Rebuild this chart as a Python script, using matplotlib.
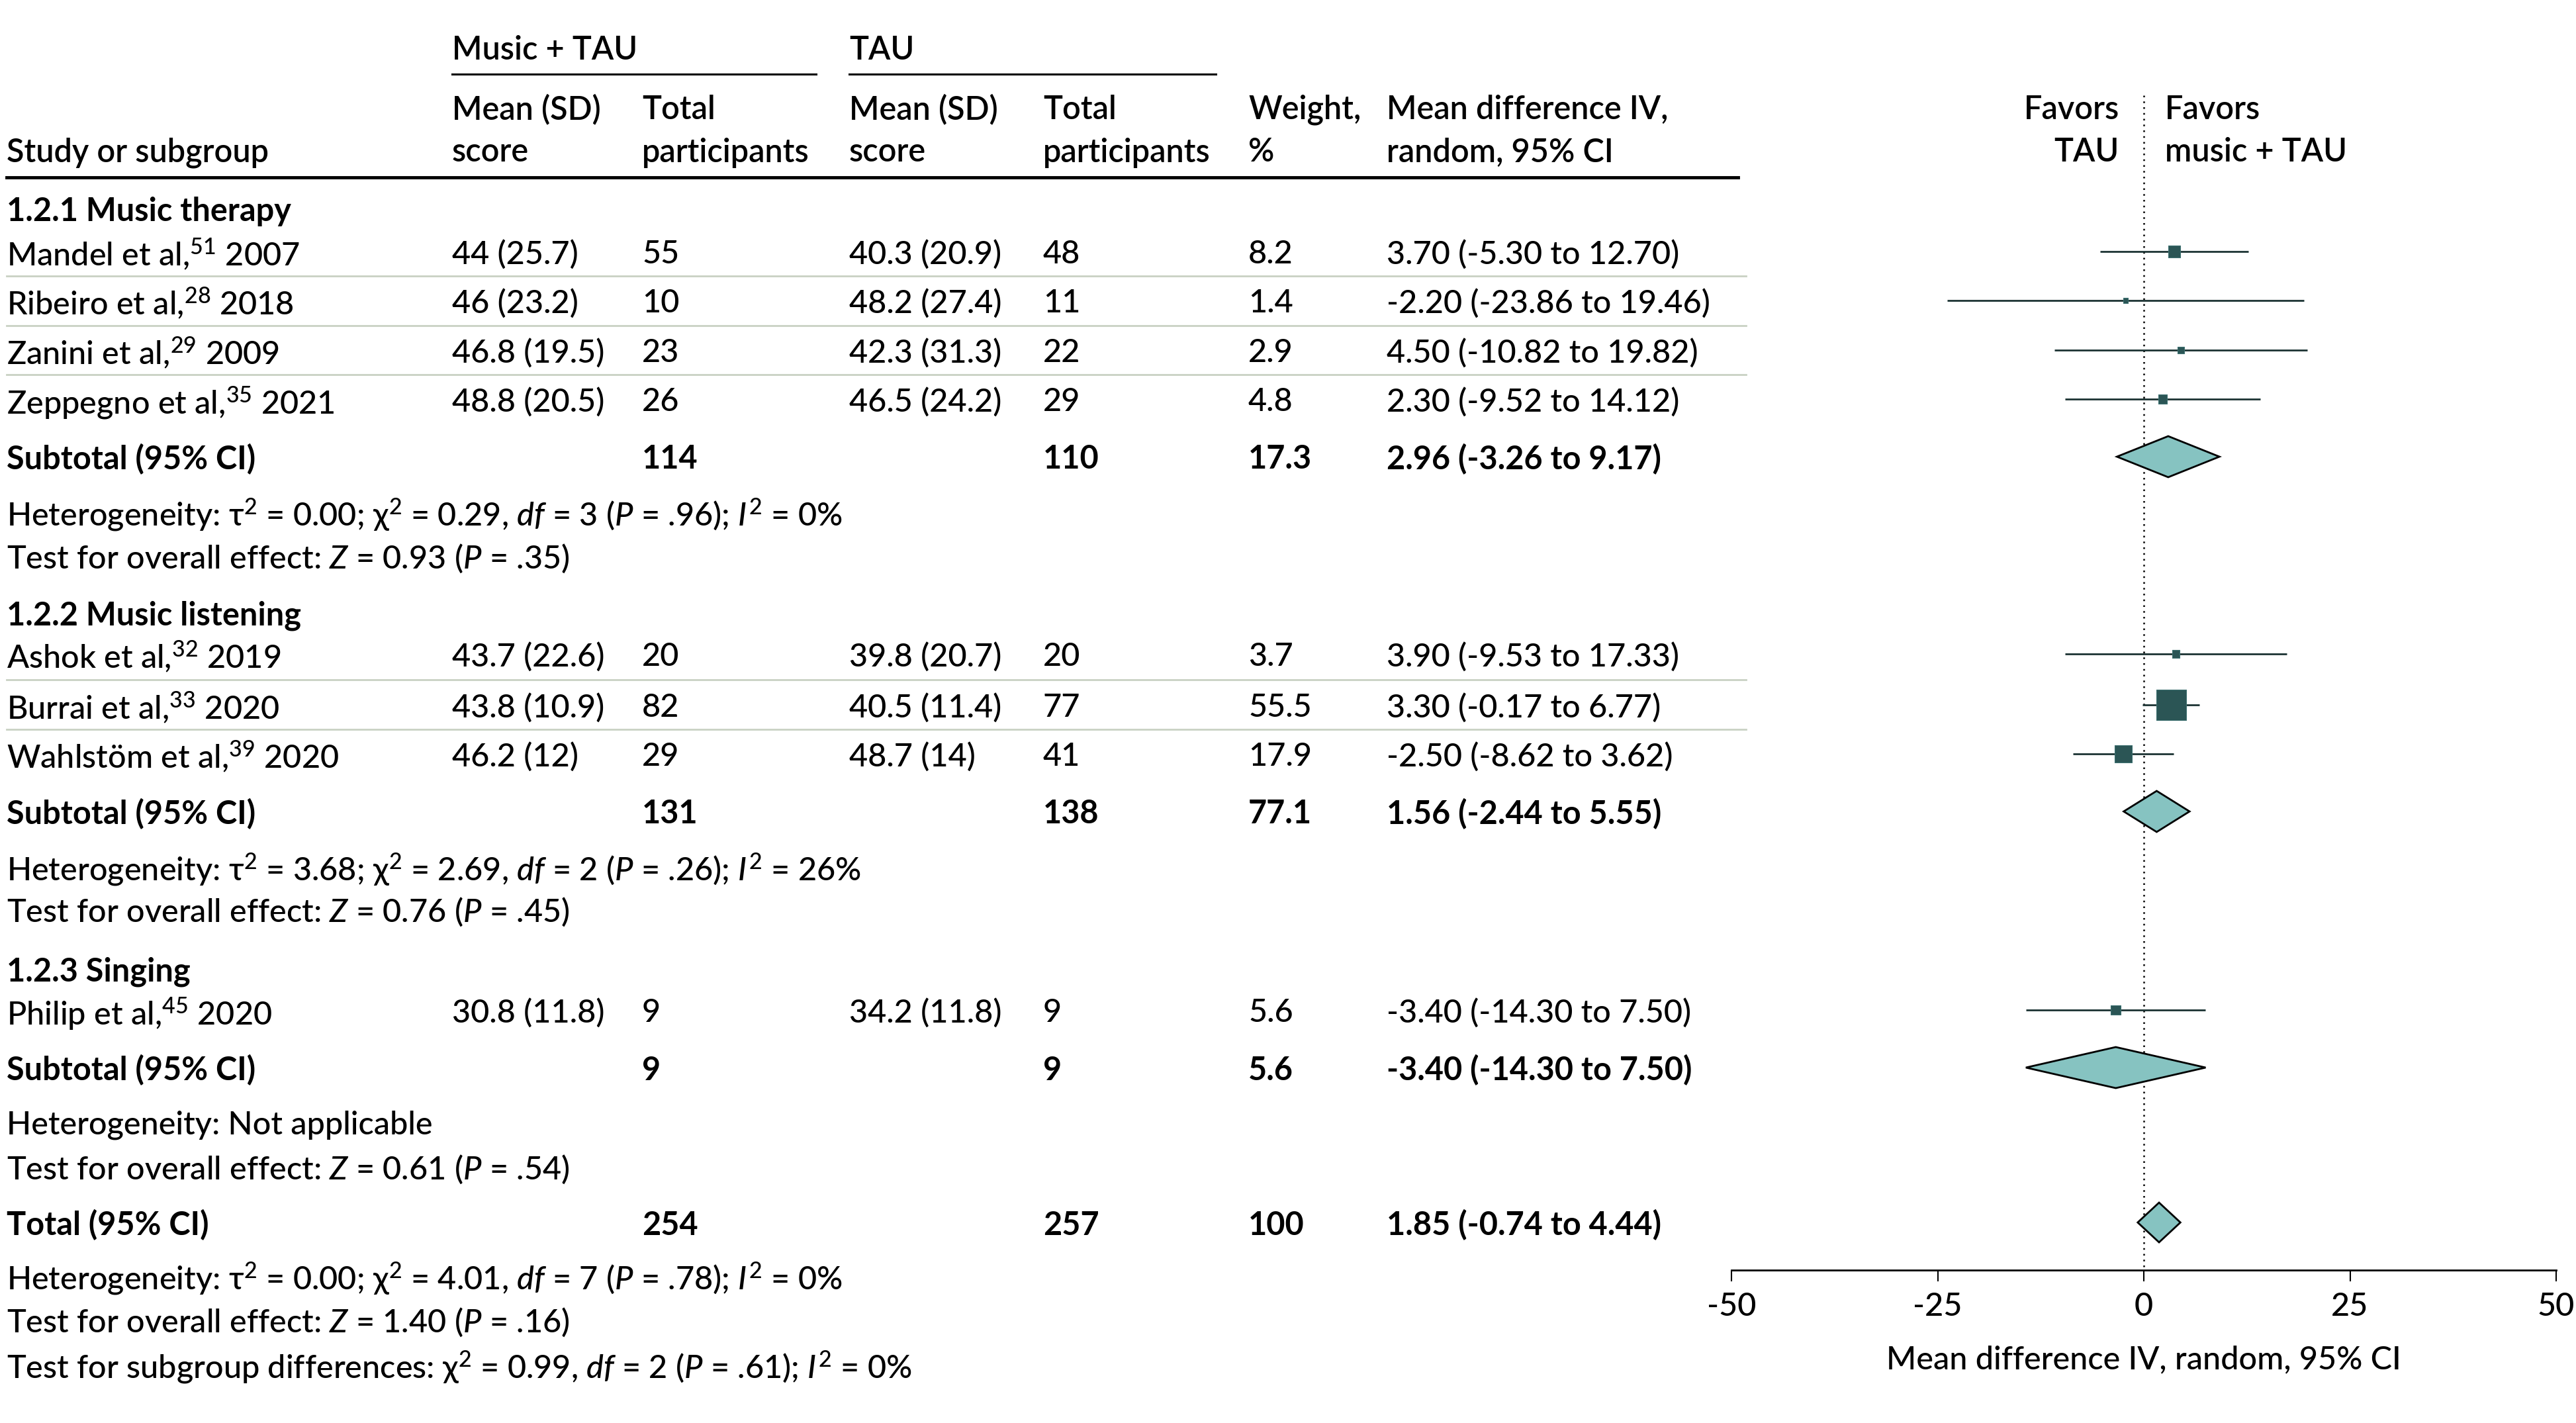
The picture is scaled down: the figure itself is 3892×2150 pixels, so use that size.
import numpy as np
import matplotlib
matplotlib.use("Agg")
import matplotlib.pyplot as plt

plt.rcParams["font.family"] = ["Lato", "DejaVu Sans"]
plt.rcParams["mathtext.fontset"] = "custom"
plt.rcParams["mathtext.rm"] = "Lato:medium"
plt.rcParams["mathtext.it"] = "Lato:italic:medium"
plt.rcParams["mathtext.bf"] = "Lato:bold"
plt.rcParams["axes.unicode_minus"] = False

# ---------------------------------------------------------------------------
# data
# ---------------------------------------------------------------------------

STUDIES = [
    r"Mandel et al,$^{51}$ 2007",
    r"Ribeiro et al,$^{28}$ 2018",
    r"Zanini et al,$^{29}$ 2009",
    r"Zeppegno et al,$^{35}$ 2021",
    r"Ashok et al,$^{32}$ 2019",
    r"Burrai et al,$^{33}$ 2020",
    r"Wahlstöm et al,$^{39}$ 2020",
    r"Philip et al,$^{45}$ 2020",
]
STUDY_GROUP = [0, 0, 0, 0, 1, 1, 1, 2]

MUSIC_MEAN = [44, 46, 46.8, 48.8, 43.7, 43.8, 46.2, 30.8]
MUSIC_SD   = [25.7, 23.2, 19.5, 20.5, 22.6, 10.9, 12, 11.8]
MUSIC_N    = [55, 10, 23, 26, 20, 82, 29, 9]
TAU_MEAN   = [40.3, 48.2, 42.3, 46.5, 39.8, 40.5, 48.7, 34.2]
TAU_SD     = [20.9, 27.4, 31.3, 24.2, 20.7, 11.4, 14, 11.8]
TAU_N      = [48, 11, 22, 29, 20, 77, 41, 9]
WEIGHT     = [8.2, 1.4, 2.9, 4.8, 3.7, 55.5, 17.9, 5.6]
MD         = [3.70, -2.20, 4.50, 2.30, 3.90, 3.30, -2.50, -3.40]
CI_LO      = [-5.30, -23.86, -10.82, -9.52, -9.53, -0.17, -8.62, -14.30]
CI_HI      = [12.70, 19.46, 19.82, 14.12, 17.33, 6.77, 3.62, 7.50]

GROUPS = ["1.2.1 Music therapy", "1.2.2 Music listening", "1.2.3 Singing"]
SUB_MUSIC_N = [114, 131, 9]
SUB_TAU_N   = [110, 138, 9]
SUB_WEIGHT  = [17.3, 77.1, 5.6]
SUB_MD      = [2.96, 1.56, -3.40]
SUB_LO      = [-3.26, -2.44, -14.30]
SUB_HI      = [9.17, 5.55, 7.50]
SUB_HET = [
    r"Heterogeneity: τ$^{2}$ = 0.00; χ$^{2}$ = 0.29, $df$ = 3 ($P$ = .96); $I^{2}$ = 0%",
    r"Heterogeneity: τ$^{2}$ = 3.68; χ$^{2}$ = 2.69, $df$ = 2 ($P$ = .26); $I^{2}$ = 26%",
    "Heterogeneity: Not applicable",
]
SUB_TEST = [
    r"Test for overall effect: $Z$ = 0.93 ($P$ = .35)",
    r"Test for overall effect: $Z$ = 0.76 ($P$ = .45)",
    r"Test for overall effect: $Z$ = 0.61 ($P$ = .54)",
]

TOTAL_MUSIC_N = 254
TOTAL_TAU_N = 257
TOTAL_WEIGHT = 100
TOTAL_MD, TOTAL_LO, TOTAL_HI = 1.85, -0.74, 4.44
TOTAL_NOTES = [
    r"Heterogeneity: τ$^{2}$ = 0.00; χ$^{2}$ = 4.01, $df$ = 7 ($P$ = .78); $I^{2}$ = 0%",
    r"Test for overall effect: $Z$ = 1.40 ($P$ = .16)",
    r"Test for subgroup differences: χ$^{2}$ = 0.99, $df$ = 2 ($P$ = .61); $I^{2}$ = 0%",
]

AXIS_TICKS = [-50, -25, 0, 25, 50]

# ---------------------------------------------------------------------------
# layout (pixel coordinates of the 3892 x 2150 canvas)
# ---------------------------------------------------------------------------

W, H = 3892, 2150
FS = 35
COL_X = {"study": 10, "m_mean": 683, "m_n": 970, "t_mean": 1283,
         "t_n": 1576, "weight": 1886, "md": 2095}

GROUP_Y = [315, 926, 1464]
STUDY_Y = [380, 454, 529, 603, 988, 1065, 1139, 1526]
SUB_Y = [690, 1226, 1613]
HET_Y = [772, 1308, 1695]
TEST_Y = [839, 1373, 1762]
TOTAL_Y = 1847
NOTES_Y = [1926, 1993, 2060]
AXIS_Y = 1919

SQUARE_COLOR = "#2b5555"
LINE_COLOR = "#1c3333"
DIAMOND_COLOR = "#86c3c1"
SEP_COLOR = "#c9d1c3"


def fmt_md(md, lo, hi):
    return f"{md:.2f} ({lo:.2f} to {hi:.2f})"


fig = plt.figure(figsize=(W / 100, H / 100), dpi=100)
ax = fig.add_axes([0, 0, 1, 1])
ax.set_xlim(0, W)
ax.set_ylim(H, 0)
ax.axis("off")


def put(x, y, s, weight="medium", ha="left"):
    ax.text(x, y, s, fontsize=FS, fontweight=weight, ha=ha,
            va="center_baseline", color="black")


# header
put(COL_X["m_mean"], 72, "Music + TAU", "semibold")
put(COL_X["t_mean"], 72, "TAU", "semibold")
ax.plot([683, 1233], [112, 112], color="black", lw=2.2)
ax.plot([1283, 1837], [112, 112], color="black", lw=2.2)
for key, l1, l2 in [("m_mean", "Mean (SD)", "score"), ("m_n", "Total", "participants"),
                    ("t_mean", "Mean (SD)", "score"), ("t_n", "Total", "participants"),
                    ("weight", "Weight,", "%"), ("md", "Mean difference IV,", "random, 95% CI")]:
    put(COL_X[key], 161, l1, "semibold")
    put(COL_X[key], 226, l2, "semibold")
put(COL_X["study"], 226, "Study or subgroup", "semibold")
ax.plot([10, 2626], [268, 268], color="black", lw=3.5)

put(3202, 161, "Favors", "semibold", ha="right")
put(3202, 226, "TAU", "semibold", ha="right")
put(3271, 161, "Favors", "semibold")
put(3271, 226, "music + TAU", "semibold")

# study rows
for i, name in enumerate(STUDIES):
    y = STUDY_Y[i]
    put(COL_X["study"], y, name)
    put(COL_X["m_mean"], y, f"{MUSIC_MEAN[i]:g} ({MUSIC_SD[i]:g})")
    put(COL_X["m_n"], y, f"{MUSIC_N[i]}")
    put(COL_X["t_mean"], y, f"{TAU_MEAN[i]:g} ({TAU_SD[i]:g})")
    put(COL_X["t_n"], y, f"{TAU_N[i]}")
    put(COL_X["weight"], y, f"{WEIGHT[i]:g}")
    put(COL_X["md"], y, fmt_md(MD[i], CI_LO[i], CI_HI[i]))
    # separator to the next study of the same subgroup
    if i + 1 < len(STUDIES) and STUDY_GROUP[i + 1] == STUDY_GROUP[i]:
        ys = (y + STUDY_Y[i + 1]) / 2
        ax.plot([10, 2638], [ys, ys], color=SEP_COLOR, lw=2)

# subgroups
for g, gname in enumerate(GROUPS):
    put(COL_X["study"], GROUP_Y[g], gname, "bold")
    y = SUB_Y[g]
    put(COL_X["study"], y, "Subtotal (95% CI)", "bold")
    put(COL_X["m_n"], y, f"{SUB_MUSIC_N[g]}", "bold")
    put(COL_X["t_n"], y, f"{SUB_TAU_N[g]}", "bold")
    put(COL_X["weight"], y, f"{SUB_WEIGHT[g]:g}", "bold")
    put(COL_X["md"], y, fmt_md(SUB_MD[g], SUB_LO[g], SUB_HI[g]), "bold")
    put(COL_X["study"], HET_Y[g], SUB_HET[g])
    put(COL_X["study"], TEST_Y[g], SUB_TEST[g])

# total
put(COL_X["study"], TOTAL_Y, "Total (95% CI)", "bold")
put(COL_X["m_n"], TOTAL_Y, f"{TOTAL_MUSIC_N}", "bold")
put(COL_X["t_n"], TOTAL_Y, f"{TOTAL_TAU_N}", "bold")
put(COL_X["weight"], TOTAL_Y, f"{TOTAL_WEIGHT:g}", "bold")
put(COL_X["md"], TOTAL_Y, fmt_md(TOTAL_MD, TOTAL_LO, TOTAL_HI), "bold")
for s, y in zip(TOTAL_NOTES, NOTES_Y):
    put(COL_X["study"], y, s)

# ---------------------------------------------------------------------------
# forest panel
# ---------------------------------------------------------------------------

x0, x1 = 2616, 3862
fax = fig.add_axes([x0 / W, 0, (x1 - x0) / W, 1])
fax.patch.set_alpha(0)
fax.set_xlim(-50, 50)
fax.set_ylim(H, 0)
for side in ["top", "left", "right"]:
    fax.spines[side].set_visible(False)
fax.spines["bottom"].set_position(("data", AXIS_Y))
fax.spines["bottom"].set_linewidth(2)
fax.set_yticks([])
fax.set_xticks(AXIS_TICKS)
fax.set_xticklabels([f"{t}" for t in AXIS_TICKS], fontweight="medium")
fax.tick_params(axis="x", direction="out", length=12, width=1.5,
                labelsize=FS, pad=12)
fax.text(0, 2050, "Mean difference IV, random, 95% CI", fontsize=FS,
         fontweight="medium", ha="center", va="center_baseline")

fax.vlines(0, 144, AXIS_Y, colors="black", linestyles=(0, (1, 2.5)), lw=1.8)

fax.hlines(STUDY_Y, CI_LO, CI_HI, colors=LINE_COLOR, lw=2)
fax.scatter(MD, STUDY_Y, s=np.array(WEIGHT) * 19, marker="s",
            color=SQUARE_COLOR, edgecolor="#3d7070", linewidth=0.8, zorder=3)


def diamond(md, lo, hi, y, half_h=31):
    fax.fill([lo, md, hi, md], [y, y - half_h, y, y + half_h],
             facecolor=DIAMOND_COLOR, edgecolor="black", lw=2, zorder=3)


for g in range(len(GROUPS)):
    diamond(SUB_MD[g], SUB_LO[g], SUB_HI[g], SUB_Y[g])
diamond(TOTAL_MD, TOTAL_LO, TOTAL_HI, TOTAL_Y, half_h=30)

fig.savefig("out.png", dpi=100)
